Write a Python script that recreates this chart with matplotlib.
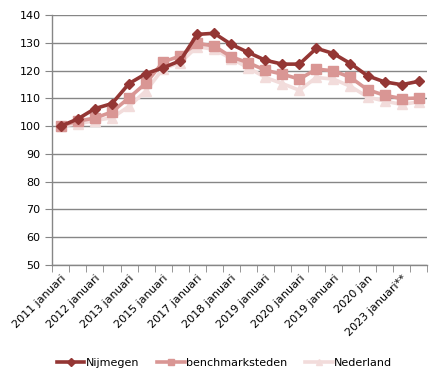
import matplotlib
matplotlib.use('Agg')
import matplotlib.pyplot as plt
from matplotlib.ticker import FixedLocator, MultipleLocator

# x-as labels (alleen elke tweede categorie heeft een label)
labels = ['2011 januari', '2012 januari', '2013 januari', '2015 januari',
          '2017 januari', '2018 januari', '2019 januari', '2020 januari',
          '2019 januari', '2020 jan', '2023 januari**']

nijmegen = [100.0, 102.6, 106.3, 108.1, 115.3, 118.9, 121.0, 123.5, 133.0, 133.4, 129.4,
            126.5, 123.7, 122.3, 122.3, 128.0, 126.1, 122.5, 118.1, 115.9, 114.9, 116.1]
benchmark = [100.2, 101.8, 102.9, 105.1, 110.2, 115.5, 123.1, 125.2, 129.8, 128.8, 124.9,
             122.8, 120.1, 118.7, 116.9, 120.5, 119.9, 117.5, 113.1, 111.1, 109.9, 110.1]
nederland = [100.0, 100.8, 102.0, 103.0, 107.1, 112.7, 120.7, 122.8, 128.6, 127.6, 124.3,
             121.0, 117.5, 115.3, 112.9, 117.5, 116.9, 114.3, 110.5, 109.0, 107.8, 108.7]

n = len(nijmegen)
x = list(range(n))

fig = plt.figure(figsize=(4.44, 3.83), dpi=100)
ax = fig.add_axes([0.118, 0.308, 0.844, 0.653])

# volgorde: achterste eerst
ax.plot(x, nederland, color='#F2DCDB', lw=2.6, marker='^', ms=6.5, label='Nederland', zorder=3)
ax.plot(x, benchmark, color='#D99694', lw=2.6, marker='s', ms=6.5, label='benchmarksteden', zorder=4)
ax.plot(x, nijmegen, color='#943634', lw=2.6, marker='D', ms=5, label='Nijmegen', zorder=5)

ax.set_xlim(-0.5, n - 0.5)
ax.set_ylim(50, 140)
ax.yaxis.set_major_locator(MultipleLocator(10))
ax.grid(axis='y', color='#868686', lw=1)
ax.set_axisbelow(True)

for s in ['top', 'right']:
    ax.spines[s].set_visible(False)
for s in ['left', 'bottom']:
    ax.spines[s].set_color('#868686')
    ax.spines[s].set_linewidth(1)

ax.set_xticks(x[::2])
ax.set_xticklabels(labels, rotation=45, ha='right', rotation_mode='anchor')
ax.tick_params(axis='x', length=0, labelsize=8, pad=6)
ax.xaxis.set_minor_locator(FixedLocator([i - 0.5 for i in range(n + 1)]))
ax.tick_params(axis='x', which='minor', length=5, color='#868686', direction='out')
ax.tick_params(axis='y', labelsize=8, length=5, color='#868686', direction='out')

handles, lbls = ax.get_legend_handles_labels()
order = [2, 1, 0]
fig.legend([handles[i] for i in order], [lbls[i] for i in order],
           loc='center', bbox_to_anchor=(0.505, 0.052), ncol=3, frameon=False,
           fontsize=8, handlelength=2.5, columnspacing=1.6, handletextpad=0.1,
           markerscale=0.75)

fig.savefig('out.png', dpi=100)
